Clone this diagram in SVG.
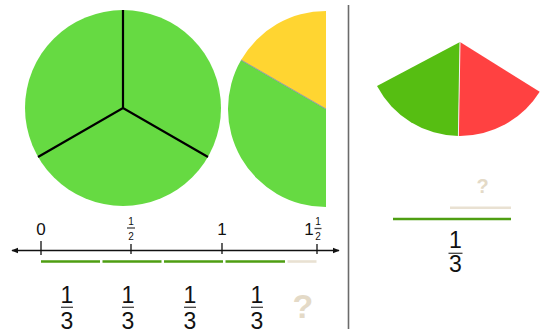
<svg xmlns="http://www.w3.org/2000/svg" width="543" height="329" viewBox="0 0 543 329">
<defs>
<style>
.t{font-family:"Liberation Sans",Arial,sans-serif;fill:#111;text-anchor:middle}
.big{font-size:17px}
.sm{font-size:10px}
.fr{font-size:23px}
.bar{stroke:#444;stroke-width:1.3}
.grn{fill:#66DA42}
.seg{stroke:#4E9E12;stroke-width:2.6}
.bei{stroke:#E9E1D2;stroke-width:2.6}
.q{font-family:"Liberation Sans",Arial,sans-serif;font-weight:bold;fill:#E4DAC7;text-anchor:middle}
</style>
<marker id="ah" viewBox="0 0 10 10" refX="9" refY="5" markerWidth="7" markerHeight="7" orient="auto-start-reverse" markerUnits="userSpaceOnUse">
<path d="M0,1 L10,5 L0,9 Z" fill="#111"/>
</marker>
</defs>
<rect width="543" height="329" fill="#fff"/>
<g id="whole-circle">
<circle class="grn" cx="123" cy="108" r="98"/>
<path d="M123,10 L123,108 M38,157 L123,108 L208,157" stroke="#000" stroke-width="2.2" fill="none"/>
</g>
<g id="half-circle">
<path d="M326,109 L326,11 A98,98 0 0 0 241.1,60 Z" fill="#FFD531"/>
<path class="grn" d="M326,109 L241.1,60 A98,98 0 0 0 326,207 Z"/>
<line x1="241.1" y1="60" x2="326" y2="109" stroke="#9a9aa8" stroke-width="1"/>
</g>
<line id="divider" x1="348.5" y1="5" x2="348.5" y2="329" stroke="#6b6b6b" stroke-width="1.6"/>
<g id="wedge">
<path d="M460,42 L377,86.1 A94,94 0 0 0 458.4,136 Z" fill="#56BE12"/>
<path d="M460,42 L458.4,136 A94,94 0 0 0 539.7,91.8 Z" fill="#FF4141"/>
<line x1="460" y1="42" x2="458.4" y2="136" stroke="#f4f4f4" stroke-width="1"/>
</g>
<g id="number-line">
<line x1="12" y1="250.5" x2="339" y2="250.5" stroke="#111" stroke-width="1.3" marker-start="url(#ah)" marker-end="url(#ah)"/>
<path d="M41,241 V255 M131,244 V254 M222,243 V254 M317,244 V254" stroke="#111" stroke-width="1.3"/>
<text class="t big" x="41" y="235">0</text>
<text class="t big" x="222" y="235">1</text>
<text class="t sm" x="131" y="224.5">1</text>
<line class="bar" x1="127" y1="228" x2="135" y2="228" stroke-width="1"/>
<text class="t sm" x="131" y="239.5">2</text>
<text class="t big" x="309" y="235">1</text>
<text class="t sm" x="318" y="224.5">1</text>
<line class="bar" x1="314.5" y1="228.5" x2="321.5" y2="228.5" stroke-width="1"/>
<text class="t sm" x="318" y="240">2</text>
</g>
<g id="segments">
<line class="seg" x1="41" y1="261.5" x2="100" y2="261.5"/>
<line class="seg" x1="102.5" y1="261.5" x2="161.5" y2="261.5"/>
<line class="seg" x1="164" y1="261.5" x2="223" y2="261.5"/>
<line class="seg" x1="225.5" y1="261.5" x2="285" y2="261.5"/>
<line class="bei" x1="287.5" y1="261.5" x2="316.5" y2="261.5"/>
</g>
<g id="fractions">
<text class="t fr" x="67" y="303">1</text><line class="bar" x1="61" y1="307.3" x2="73" y2="307.3"/><text class="t fr" x="67" y="329">3</text>
<text class="t fr" x="128" y="303">1</text><line class="bar" x1="122" y1="307.3" x2="134" y2="307.3"/><text class="t fr" x="128" y="329">3</text>
<text class="t fr" x="190" y="303">1</text><line class="bar" x1="184" y1="307.3" x2="196" y2="307.3"/><text class="t fr" x="190" y="329">3</text>
<text class="t fr" x="257" y="303">1</text><line class="bar" x1="251" y1="307.3" x2="263" y2="307.3"/><text class="t fr" x="257" y="329">3</text>
<text class="q" x="303" y="318" font-size="34">?</text>
</g>
<g id="right-fraction">
<text class="q" x="482.5" y="193" font-size="20">?</text>
<line class="bei" x1="450" y1="207.7" x2="511" y2="207.7"/>
<line class="seg" x1="393" y1="219" x2="511" y2="219" stroke="#4FA514"/>
<text class="t fr" x="455.5" y="248.3" font-size="22">1</text>
<line class="bar" x1="448.5" y1="253.3" x2="462.5" y2="253.3"/>
<text class="t fr" x="455.5" y="271.7" font-size="22">3</text>
</g>
</svg>
